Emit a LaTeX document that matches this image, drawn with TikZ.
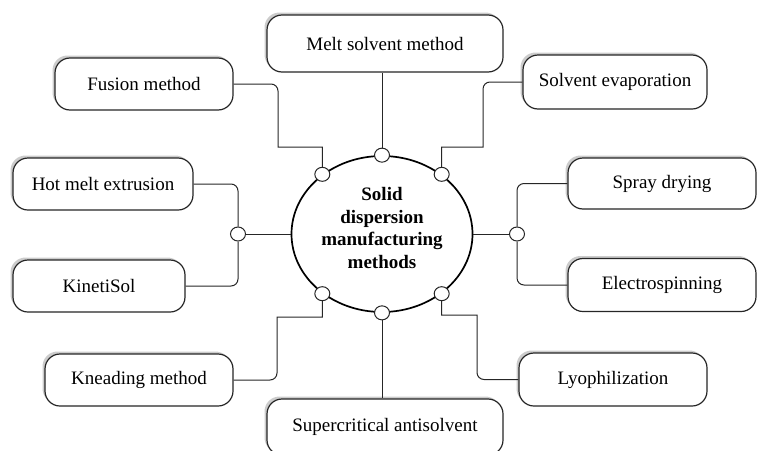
\documentclass[tikz,border=0pt]{standalone}
\usepackage{fontspec}
\setmainfont{Liberation Serif}
\usetikzlibrary{shadows,shapes.geometric}
\begin{document}
\begin{tikzpicture}[x=1pt,y=-1pt,
  box/.style={draw=black!85, line width=1.2pt, fill=white, rounded corners=15pt,
    align=center, inner sep=0pt,
    font=\fontsize{19}{23}\selectfont,
    drop shadow={shadow xshift=-2.5pt, shadow yshift=2.5pt, fill=black, opacity=0.2}},
  hub/.style={draw=black, line width=1.7pt, ellipse, fill=white, minimum width=181pt, minimum height=156pt, inner sep=0pt},
  hubtext/.style={align=center, inner sep=0pt, font=\bfseries\fontsize{19}{22.5}\selectfont},
  dot/.style={draw=black!85, line width=1pt, ellipse, fill=white, minimum width=15pt, minimum height=14pt, inner sep=0pt},
  link/.style={draw=black!85, line width=1pt},
  rc/.style={rounded corners=7pt}]
\useasboundingbox (0,0) rectangle (759,450);
% boxes
\node[box, minimum width=236pt, minimum height=57pt] (msm) at (385,43.5) {Melt solvent method};
\node[box, minimum width=178pt, minimum height=52pt] (fus) at (144,84) {Fusion method};
\node[box, minimum width=184pt, minimum height=54pt] (sev) at (615,82) {Solvent evaporation};
\node[box, minimum width=180pt, minimum height=52pt] (hme) at (103,184) {Hot melt extrusion};
\node[box, minimum width=172pt, minimum height=52pt] (kin) at (99,286) {KinetiSol};
\node[box, minimum width=188pt, minimum height=51pt] (spd) at (662,183.5) {Spray drying};
\node[box, minimum width=188pt, minimum height=53pt] (els) at (662,285) {Electrospinning};
\node[box, minimum width=188pt, minimum height=52pt] (kne) at (139,380) {Kneading method};
\node[box, minimum width=188pt, minimum height=53pt] (lyo) at (613,379.5) {Lyophilization};
\node[box, minimum width=236pt, minimum height=56pt] (sca) at (385,427) {Supercritical antisolvent};
% hub
\node[hub] (E) at (382,234) {};
\node[hubtext] (Et) at (382,228) {Solid\\dispersion\\manufacturing\\methods};
% junction dots
\node[dot] (dt) at (E.90) {};
\node[dot] (dul) at (E.135) {};
\node[dot] (dur) at (E.45) {};
\node[dot] (dll) at (E.-135) {};
\node[dot] (dlr) at (E.-45) {};
\node[dot] (db) at (E.-90) {};
\node[dot] (dl) at (238,234) {};
\node[dot] (dr) at (517,234) {};
% connectors
\draw[link] (dt.north) -- (dt.north |- msm.south);
\draw[link] (db.south) -- (db.south |- sca.north);
\draw[link] (dul.north) |- (278,147) [rc] |- (fus.east);
\draw[link] (dur.north) |- (483,147) [rc] |- (sev.west);
\draw[link] (dll.south) |- (277,317) [rc] |- (kne.east);
\draw[link] (dlr.south) |- (477,315) [rc] |- (lyo.west);
\draw[link] (E.west) -- (dl.east);
\draw[link] (E.east) -- (dr.west);
\draw[link, rc] (dl.north) |- (hme.east);
\draw[link, rc] (dl.south) |- (kin.east);
\draw[link, rc] (dr.north) |- (spd.west);
\draw[link, rc] (dr.south) |- (els.west);
\end{tikzpicture}
\end{document}
